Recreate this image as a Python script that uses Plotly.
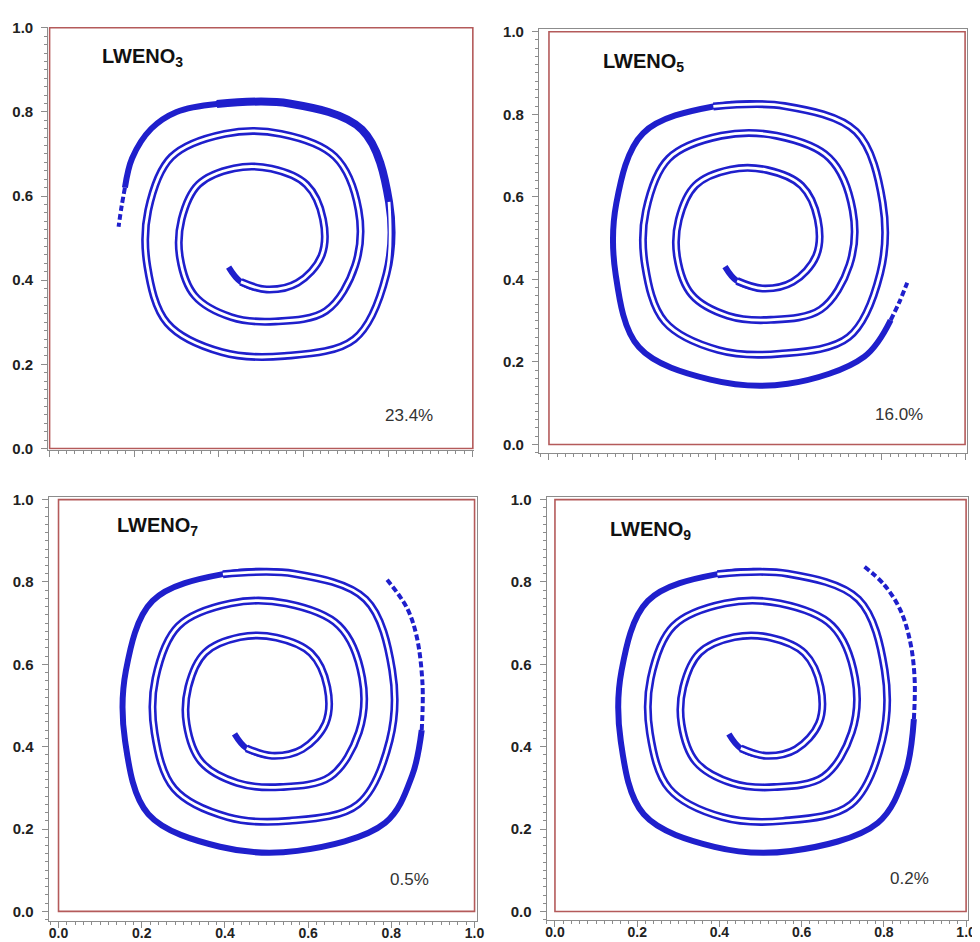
import plotly.graph_objects as go

# ---------------- data ----------------
panel_names = ["LWENO", "LWENO", "LWENO", "LWENO"]
panel_orders = ["3", "5", "7", "9"]
panel_errors = ["23.4%", "16.0%", "0.5%", "0.2%"]

# shared centre line of the spiral band (inner tip -> top of the third turn)
spiral_x = [0.423, 0.452, 0.513, 0.586, 0.642, 0.646, 0.607, 0.524, 0.436, 0.352, 0.312,
            0.308, 0.343, 0.430, 0.533, 0.653, 0.722, 0.730, 0.674, 0.547, 0.414, 0.288,
            0.233, 0.231, 0.278, 0.407, 0.555, 0.720, 0.796, 0.802, 0.738, 0.566, 0.395]
spiral_y = [0.431, 0.396, 0.378, 0.394, 0.457, 0.545, 0.627, 0.665, 0.666, 0.628, 0.545,
            0.454, 0.363, 0.312, 0.302, 0.327, 0.435, 0.567, 0.694, 0.748, 0.748, 0.693,
            0.566, 0.433, 0.298, 0.229, 0.220, 0.260, 0.415, 0.586, 0.758, 0.820, 0.819]

# dense outer tail of every panel (continues the spiral)
tail3_x = [0.300, 0.240, 0.195, 0.178]
tail3_y = [0.800, 0.760, 0.690, 0.620]
tail5_x = [0.226, 0.162, 0.160, 0.216, 0.388, 0.574, 0.758, 0.821]
tail5_y = [0.754, 0.585, 0.414, 0.236, 0.157, 0.147, 0.213, 0.301]
tail7_x = [0.226, 0.162, 0.160, 0.216, 0.388, 0.574, 0.785, 0.850, 0.873]
tail7_y = [0.754, 0.585, 0.414, 0.236, 0.157, 0.147, 0.215, 0.330, 0.440]
tail9_x = [0.226, 0.162, 0.160, 0.216, 0.388, 0.574, 0.785, 0.852, 0.873]
tail9_y = [0.754, 0.585, 0.414, 0.236, 0.157, 0.147, 0.215, 0.335, 0.467]

# sparse (dotted) particle ends
end3_x = [0.178, 0.170, 0.163]
end3_y = [0.620, 0.575, 0.527]
end5_x = [0.821, 0.842, 0.861]
end5_y = [0.301, 0.345, 0.392]
end7_x = [0.873, 0.875, 0.861, 0.837, 0.787]
end7_y = [0.440, 0.550, 0.667, 0.738, 0.809]
end9_x = [0.873, 0.875, 0.865, 0.841, 0.801, 0.753]
end9_y = [0.467, 0.560, 0.650, 0.730, 0.793, 0.837]

tails_x = [tail3_x, tail5_x, tail7_x, tail9_x]
tails_y = [tail3_y, tail5_y, tail7_y, tail9_y]
ends_x = [end3_x, end5_x, end7_x, end9_x]
ends_y = [end3_y, end5_y, end7_y, end9_y]
gap_stop = [30, 33, 33, 33]   # where the two sides of the band stop being separated

tick_vals = [0.0, 0.2, 0.4, 0.6, 0.8, 1.0]
tick_text = ["0.0", "0.2", "0.4", "0.6", "0.8", "1.0"]

# ---------------- layout geometry ----------------
BLUE = "#1f1fcc"
RED = "#b45a5a"
GRAY = "#8c8c8c"

dom_x = [[0.0405, 0.4790], [0.5459, 0.9867], [0.0408, 0.4816], [0.5538, 0.9878]]
dom_y = [[0.5315, 0.9876], [0.5276, 0.9851], [0.0234, 0.4802], [0.0244, 0.4809]]
rng_x = [[-0.003, 1.003], [-0.0238, 1.0048], [-0.0238, 1.005], [-0.020, 1.005]]
rng_y = [[-0.003, 1.003], [-0.0215, 1.007], [-0.024, 1.0055], [-0.0215, 1.007]]
title_pos = [(0.120, 0.930), (0.126, 0.926), (0.135, 0.934), (0.129, 0.926)]
err_pos = [(0.850, 0.078), (0.840, 0.072), (0.843, 0.077), (0.862, 0.080)]

fig = go.Figure()
layout = dict(width=980, height=942, margin=dict(l=0, r=0, t=0, b=0),
              paper_bgcolor="white", plot_bgcolor="white", showlegend=False)
shapes = []
annotations = []

for i in range(4):
    xa = "x" if i == 0 else f"x{i+1}"
    ya = "y" if i == 0 else f"y{i+1}"
    xk = "xaxis" if i == 0 else f"xaxis{i+1}"
    yk = "yaxis" if i == 0 else f"yaxis{i+1}"

    path_x = spiral_x + tails_x[i]
    path_y = spiral_y + tails_y[i]

    # whole filament (outer part is thinner)
    fig.add_trace(go.Scatter(x=path_x, y=path_y, mode="lines", xaxis=xa, yaxis=ya,
                             line=dict(color=BLUE, width=6, shape="spline", smoothing=1.0),
                             hoverinfo="skip"))
    # wider band of the wound-up part
    fig.add_trace(go.Scatter(x=spiral_x[1:], y=spiral_y[1:], mode="lines", xaxis=xa, yaxis=ya,
                             line=dict(color=BLUE, width=8, shape="spline", smoothing=1.0),
                             hoverinfo="skip"))
    # thin gap between the two sides of the band
    fig.add_trace(go.Scatter(x=spiral_x[1:gap_stop[i]], y=spiral_y[1:gap_stop[i]], mode="lines",
                             xaxis=xa, yaxis=ya,
                             line=dict(color="white", width=2.8, shape="spline", smoothing=1.0),
                             hoverinfo="skip"))
    # sparse particles at the end of the filament
    fig.add_trace(go.Scatter(x=ends_x[i], y=ends_y[i], mode="lines", xaxis=xa, yaxis=ya,
                             line=dict(color=BLUE, width=4, shape="spline", smoothing=1.0,
                                       dash="6px,3px"),
                             hoverinfo="skip"))

    mirror = False if i == 0 else True
    common = dict(showgrid=False, zeroline=False, showline=True, linecolor=GRAY, linewidth=1.2,
                  mirror=mirror, ticks="outside", ticklen=6, tickwidth=1, tickcolor=GRAY,
                  tickvals=tick_vals, ticktext=tick_text,
                  minor=dict(dtick=0.02, tick0=0, ticks="outside", ticklen=3, tickcolor=GRAY,
                             tickwidth=1, showgrid=False))
    layout[xk] = dict(common, domain=dom_x[i], range=rng_x[i], anchor=ya,
                      showticklabels=(i >= 2), ticklabelstandoff=-7,
                      tickfont=dict(family="Liberation Sans, Arial", size=14, color="#222222",
                                    weight="bold"))
    layout[yk] = dict(common, domain=dom_y[i], range=rng_y[i], anchor=xa,
                      ticklabelstandoff=5,
                      tickfont=dict(family="Liberation Sans, Arial", size=15, color="#222222",
                                    weight="bold"))

    shapes.append(dict(type="rect", xref=xa, yref=ya, x0=0, x1=1, y0=0, y1=1,
                       line=dict(color=RED, width=1.6), layer="below"))

    tx, ty = title_pos[i]
    annotations.append(dict(xref=xa, yref=ya, x=tx, y=ty, xanchor="left", yanchor="middle",
                            text=f"<b>{panel_names[i]}<sub>{panel_orders[i]}</sub></b>",
                            showarrow=False,
                            font=dict(family="Liberation Sans, Arial", size=20, color="#111111")))
    ex, ey = err_pos[i]
    annotations.append(dict(xref=xa, yref=ya, x=ex, y=ey, xanchor="center", yanchor="middle",
                            text=panel_errors[i], showarrow=False,
                            font=dict(family="Liberation Sans, Arial", size=17, color="#333333")))

layout["shapes"] = shapes
layout["annotations"] = annotations
fig.update_layout(**layout)
fig.write_html("out.html")
